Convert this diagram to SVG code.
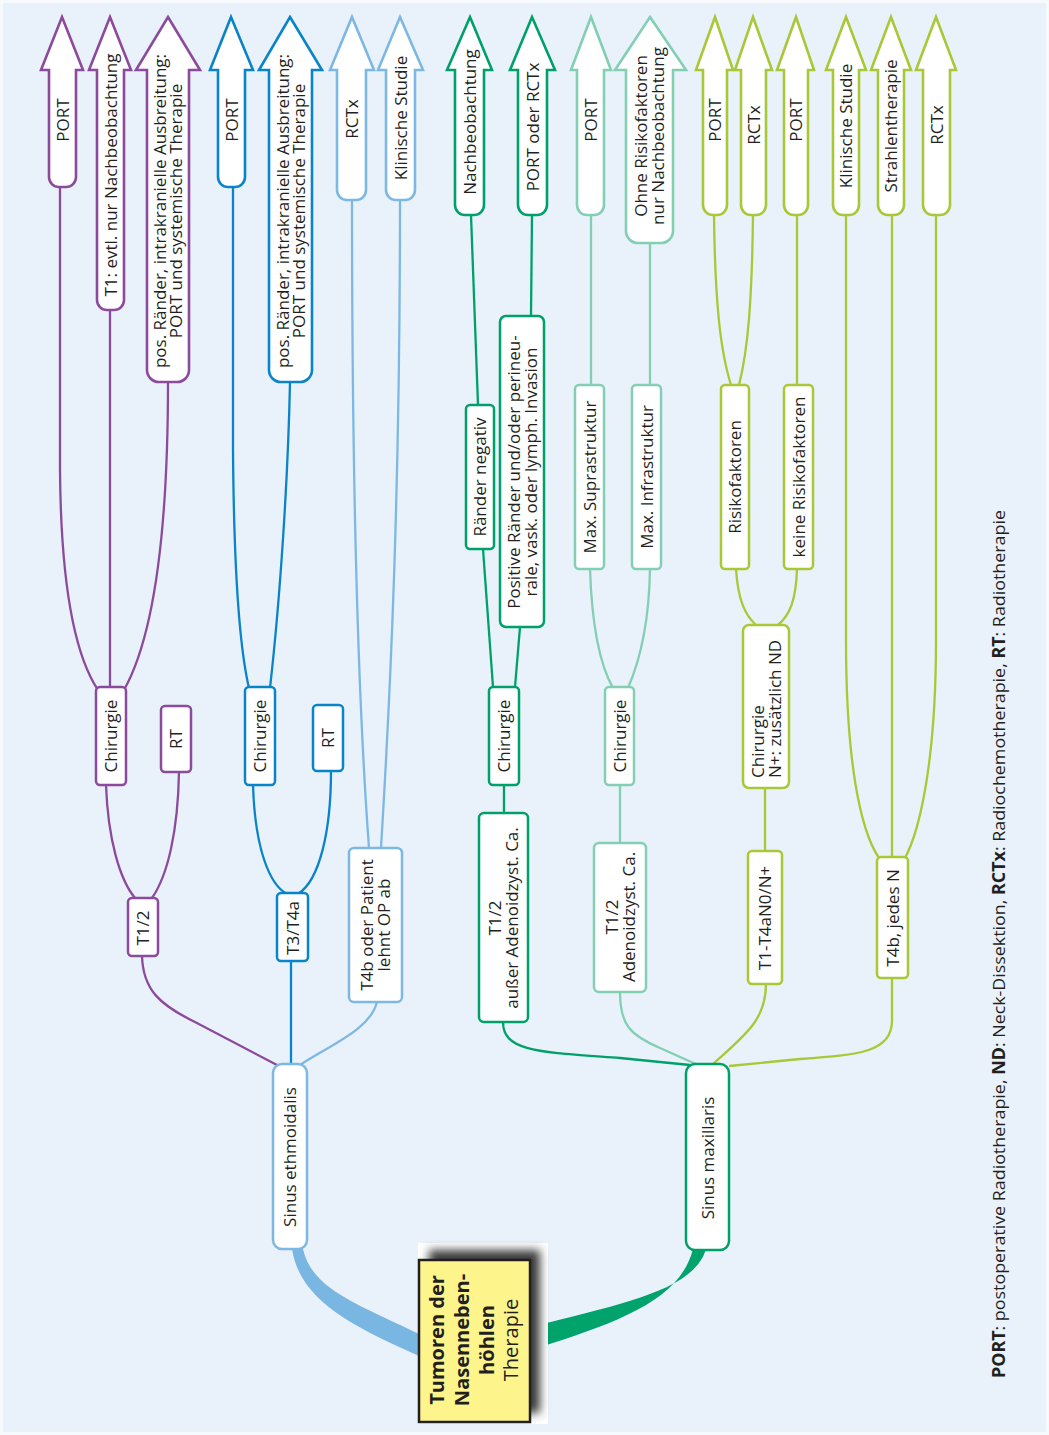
<svg xmlns="http://www.w3.org/2000/svg" width="1049" height="1435" viewBox="0 0 1049 1435">
  <defs>
    <style>
      text { font-family: "Open Sans", "Liberation Sans", sans-serif; font-size: 17px; fill: #231f20; }
      .box { fill: #ffffff; stroke-width: 2.5; }
      .arr { fill: #ffffff; stroke-width: 2.6; stroke-linejoin: miter; }
      .ln { fill: none; stroke-width: 2.3; }
      .p { stroke: #8c4a9d; }
      .b { stroke: #0a84c8; }
      .lb { stroke: #7db8e4; }
      .g { stroke: #00a06b; }
      .t { stroke: #82cfb3; }
      .l { stroke: #a9c837; }
      .c { text-anchor: middle; }
    </style>
    <filter id="shadow" x="-30%" y="-30%" width="160%" height="160%">
      <feGaussianBlur stdDeviation="5"/>
    </filter>
  </defs>

  <!-- page background -->
  <rect x="0" y="0" width="1049" height="1435" fill="#f7fafd"/>
  <rect x="3" y="3" width="1043" height="1429" fill="#e9f2fa"/>

  <!-- connectors -->
  <g id="connectors">
    <!-- Sinus ethmoidalis: T1/2 branch -->
    <path class="ln p" d="M60,187 L60,470 C61,600 78,660 98,690"/>
    <path class="ln p" d="M110,310 L110,687"/>
    <path class="ln p" d="M168,382 C168,540 152,640 124,690"/>
    <path class="ln p" d="M106,785 C108,840 120,880 135,898"/>
    <path class="ln p" d="M179,772 C178,830 168,875 152,898"/>
    <path class="ln p" d="M142,956 C143,990 160,1005 195,1022 L277,1065"/>
    <!-- Sinus ethmoidalis: T3/T4a branch -->
    <path class="ln b" d="M233,187 L233,450 C234,580 240,650 249,688"/>
    <path class="ln b" d="M290,382 C288,480 280,600 270,688"/>
    <path class="ln b" d="M253,785 C255,850 270,885 287,894"/>
    <path class="ln b" d="M331,771 C331,830 320,880 298,894"/>
    <path class="ln b" d="M291,961 L291,1064"/>
    <!-- Sinus ethmoidalis: T4b branch -->
    <path class="ln lb" d="M352,200 C352,500 358,700 369,848"/>
    <path class="ln lb" d="M400,200 C400,500 390,700 381,848"/>
    <path class="ln lb" d="M377,1002 C370,1030 330,1045 300,1065"/>
    <!-- Sinus maxillaris: T1/2 ausser Adenoidzyst. -->
    <path class="ln g" d="M471,215 L478,405"/>
    <path class="ln g" d="M483,549 L493,687"/>
    <path class="ln g" d="M532,215 L531,316"/>
    <path class="ln g" d="M520,627 L515,687"/>
    <path class="ln g" d="M504,785 L504,813"/>
    <path class="ln g" d="M503,1022 C503,1052 540,1052 620,1058 L690,1065"/>
    <!-- Sinus maxillaris: T1/2 Adenoidzyst. -->
    <path class="ln t" d="M591,215 L591,385"/>
    <path class="ln t" d="M650,243 L650,385"/>
    <path class="ln t" d="M590,569 C592,630 600,665 613,688"/>
    <path class="ln t" d="M650,569 C649,630 638,665 628,688"/>
    <path class="ln t" d="M620,785 L620,843"/>
    <path class="ln t" d="M620,992 C620,1025 630,1035 660,1048 L698,1065"/>
    <!-- Sinus maxillaris: T1-T4aN0/N+ -->
    <path class="ln l" d="M714,215 C715,300 720,350 731,385"/>
    <path class="ln l" d="M753,215 C752,300 748,350 739,385"/>
    <path class="ln l" d="M797,215 L797,385"/>
    <path class="ln l" d="M736,569 C738,600 745,615 756,625"/>
    <path class="ln l" d="M797,569 C796,600 790,615 778,625"/>
    <path class="ln l" d="M765,788 L765,851"/>
    <path class="ln l" d="M766,984 C766,1020 745,1035 713,1064"/>
    <!-- Sinus maxillaris: T4b, jedes N -->
    <path class="ln l" d="M846,215 L846,640 C846,760 860,830 879,858"/>
    <path class="ln l" d="M892,215 L892,857"/>
    <path class="ln l" d="M936,215 L936,640 C936,760 920,830 905,858"/>
    <path class="ln l" d="M892,978 L892,1020 C892,1052 860,1055 800,1059 L729,1066"/>
    <!-- tapered trunks from the root -->
    <path d="M303,1249 C312,1290 360,1305 419,1334 L419,1356 C350,1325 300,1300 292,1249 Z" fill="#7ab6e2"/>
    <path d="M706,1249 C694,1290 625,1303 531,1327 L531,1350 C620,1322 680,1300 693,1249 Z" fill="#00a36c"/>
  </g>

  <!-- root -->
  <g id="root">
    <rect x="418" y="1243" width="130" height="181" fill="#ffffff"/>
    <rect x="429" y="1250" width="111" height="163" fill="#3a3a3a" filter="url(#shadow)"/>
    <rect x="419" y="1260" width="111" height="162" fill="#fdf48c" stroke="#231f20" stroke-width="2.5"/>
    <text transform="translate(444,1340) rotate(-90)" class="c" style="font-size:20px;font-weight:bold">Tumoren der</text>
    <text transform="translate(469,1340) rotate(-90)" class="c" style="font-size:20px;font-weight:bold">Nasenneben-</text>
    <text transform="translate(494,1340) rotate(-90)" class="c" style="font-size:20px;font-weight:bold">höhlen</text>
    <text transform="translate(518,1340) rotate(-90)" class="c" style="font-size:20px">Therapie</text>
  </g>

  <!-- first level -->
  <g id="sinus-ethmoidalis">
    <rect class="box lb" x="273" y="1064" width="34" height="185" rx="9"/>
    <text class="c" transform="translate(296,1157) rotate(-90)">Sinus ethmoidalis</text>
  </g>
  <g id="sinus-maxillaris">
    <rect class="box g" x="686" y="1064" width="43" height="186" rx="9"/>
    <text class="c" transform="translate(713.5,1158) rotate(-90)">Sinus maxillaris</text>
  </g>

  <!-- Sinus ethmoidalis branches -->
  <g id="eth-t12">
    <rect class="box p" x="128" y="898" width="30" height="58" rx="4"/>
    <text class="c" transform="translate(149,928) rotate(-90)">T1/2</text>
  </g>
  <g id="eth-t12-chirurgie">
    <rect class="box p" x="96" y="687" width="30" height="98" rx="4"/>
    <text class="c" transform="translate(117,736) rotate(-90)">Chirurgie</text>
  </g>
  <g id="eth-t12-rt">
    <rect class="box p" x="161" y="706" width="30" height="66" rx="4"/>
    <text class="c" transform="translate(182,739) rotate(-90)">RT</text>
  </g>
  <g id="eth-t34">
    <rect class="box b" x="277" y="893" width="31" height="68" rx="4"/>
    <text class="c" transform="translate(298.5,928) rotate(-90)">T3/T4a</text>
  </g>
  <g id="eth-t34-chirurgie">
    <rect class="box b" x="245" y="687" width="30" height="98" rx="4"/>
    <text class="c" transform="translate(266,736) rotate(-90)">Chirurgie</text>
  </g>
  <g id="eth-t34-rt">
    <rect class="box b" x="313" y="705" width="30" height="66" rx="4"/>
    <text class="c" transform="translate(334,738) rotate(-90)">RT</text>
  </g>
  <g id="eth-t4b">
    <rect class="box lb" x="349" y="848" width="53" height="154" rx="5"/>
    <text class="c" transform="translate(373,925) rotate(-90)">T4b oder Patient</text>
    <text class="c" transform="translate(390,925) rotate(-90)">lehnt OP ab</text>
  </g>

  <!-- Sinus maxillaris branches -->
  <g id="max-t12">
    <rect class="box g" x="479" y="813" width="49" height="209" rx="5"/>
    <text class="c" transform="translate(501,918) rotate(-90)">T1/2</text>
    <text class="c" transform="translate(518,918) rotate(-90)">außer Adenoidzyst. Ca.</text>
  </g>
  <g id="max-t12-chirurgie">
    <rect class="box g" x="489" y="687" width="30" height="98" rx="4"/>
    <text class="c" transform="translate(510,736) rotate(-90)">Chirurgie</text>
  </g>
  <g id="max-t12-neg">
    <rect class="box g" x="466" y="405" width="28" height="144" rx="4"/>
    <text class="c" transform="translate(486,477) rotate(-90)">Ränder negativ</text>
  </g>
  <g id="max-t12-pos">
    <rect class="box g" x="500" y="316" width="44" height="311" rx="6"/>
    <text class="c" transform="translate(520,472) rotate(-90)">Positive Ränder und/oder perineu-</text>
    <text class="c" transform="translate(537,472) rotate(-90)">rale, vask. oder lymph. Invasion</text>
  </g>
  <g id="max-adeno">
    <rect class="box t" x="594" y="843" width="52" height="149" rx="5"/>
    <text class="c" transform="translate(617.5,917) rotate(-90)">T1/2</text>
    <text class="c" transform="translate(634.5,917) rotate(-90)">Adenoidzyst. Ca.</text>
  </g>
  <g id="max-adeno-chirurgie">
    <rect class="box t" x="605" y="687" width="29" height="98" rx="4"/>
    <text class="c" transform="translate(625.5,736) rotate(-90)">Chirurgie</text>
  </g>
  <g id="max-adeno-supra">
    <rect class="box t" x="575" y="385" width="29" height="184" rx="4"/>
    <text class="c" transform="translate(595.5,477) rotate(-90)">Max. Suprastruktur</text>
  </g>
  <g id="max-adeno-infra">
    <rect class="box t" x="632" y="385" width="29" height="184" rx="4"/>
    <text class="c" transform="translate(652.5,477) rotate(-90)">Max. Infrastruktur</text>
  </g>
  <g id="max-t14">
    <rect class="box l" x="748" y="851" width="34" height="133" rx="4"/>
    <text class="c" transform="translate(771,918) rotate(-90)">T1-T4aN0/N+</text>
  </g>
  <g id="max-t14-chirurgie">
    <rect class="box l" x="743" y="625" width="46" height="163" rx="6"/>
    <text transform="translate(763.5,778) rotate(-90)">Chirurgie</text>
    <text transform="translate(780.5,778) rotate(-90)">N+: zusätzlich ND</text>
  </g>
  <g id="max-t14-risk">
    <rect class="box l" x="721" y="385" width="28" height="184" rx="4"/>
    <text class="c" transform="translate(741,477) rotate(-90)">Risikofaktoren</text>
  </g>
  <g id="max-t14-norisk">
    <rect class="box l" x="784" y="385" width="29" height="184" rx="4"/>
    <text class="c" transform="translate(804.5,477) rotate(-90)">keine Risikofaktoren</text>
  </g>
  <g id="max-t4b">
    <rect class="box l" x="877" y="857" width="31" height="121" rx="4"/>
    <text class="c" transform="translate(898.5,918) rotate(-90)">T4b, jedes N</text>
  </g>

  <!-- outcome arrows -->
  <g id="out-eth-port">
    <path class="arr p" d="M62,17 L83,70 L76,70 L76,177 A10,10 0 0 1 66,187 L59,187 A10,10 0 0 1 49,177 L49,70 L41,70 Z"/>
    <text class="c" transform="translate(68.5,120) rotate(-90)">PORT</text>
  </g>
  <g id="out-eth-t1">
    <path class="arr p" d="M110,17 L131,70 L124,70 L124,300 A10,10 0 0 1 114,310 L107,310 A10,10 0 0 1 97,300 L97,70 L89,70 Z"/>
    <text class="c" transform="translate(116.5,175) rotate(-90)">T1: evtl. nur Nachbeobachtung</text>
  </g>
  <g id="out-eth-pos1">
    <path class="arr p" d="M168,17 L200,70 L189,70 L189,370 A12,12 0 0 1 177,382 L159,382 A12,12 0 0 1 147,370 L147,70 L136,70 Z"/>
    <text class="c" transform="translate(166,211) rotate(-90)">pos. Ränder, intrakranielle Ausbreitung:</text>
    <text class="c" transform="translate(182,211) rotate(-90)">PORT und systemische Therapie</text>
  </g>
  <g id="out-eth-port2">
    <path class="arr b" d="M231,17 L253,70 L245,70 L245,177 A10,10 0 0 1 235,187 L228,187 A10,10 0 0 1 218,177 L218,70 L210,70 Z"/>
    <text class="c" transform="translate(237.5,120) rotate(-90)">PORT</text>
  </g>
  <g id="out-eth-pos2">
    <path class="arr b" d="M290,17 L322,70 L312,70 L312,370 A12,12 0 0 1 300,382 L281,382 A12,12 0 0 1 269,370 L269,70 L259,70 Z"/>
    <text class="c" transform="translate(288.5,211) rotate(-90)">pos. Ränder, intrakranielle Ausbreitung:</text>
    <text class="c" transform="translate(304.5,211) rotate(-90)">PORT und systemische Therapie</text>
  </g>
  <g id="out-eth-rctx">
    <path class="arr lb" d="M352,17 L374,70 L366,70 L366,190 A10,10 0 0 1 356,200 L347,200 A10,10 0 0 1 337,190 L337,70 L330,70 Z"/>
    <text class="c" transform="translate(357.5,119) rotate(-90)">RCTx</text>
  </g>
  <g id="out-eth-study">
    <path class="arr lb" d="M400,17 L423,70 L415,70 L415,190 A10,10 0 0 1 405,200 L396,200 A10,10 0 0 1 386,190 L386,70 L378,70 Z"/>
    <text class="c" transform="translate(406.5,118) rotate(-90)">Klinische Studie</text>
  </g>
  <g id="out-max-follow">
    <path class="arr g" d="M470,17 L492,70 L484,70 L484,205 A10,10 0 0 1 474,215 L465,215 A10,10 0 0 1 455,205 L455,70 L447,70 Z"/>
    <text class="c" transform="translate(475.5,122) rotate(-90)">Nachbeobachtung</text>
  </g>
  <g id="out-max-port-rctx">
    <path class="arr g" d="M532,17 L555,70 L547,70 L547,205 A10,10 0 0 1 537,215 L528,215 A10,10 0 0 1 518,205 L518,70 L510,70 Z"/>
    <text class="c" transform="translate(538.5,127) rotate(-90)">PORT oder RCTx</text>
  </g>
  <g id="out-max-port1">
    <path class="arr t" d="M591,17 L611,70 L604,70 L604,205 A10,10 0 0 1 594,215 L587,215 A10,10 0 0 1 577,205 L577,70 L571,70 Z"/>
    <text class="c" transform="translate(596.5,120) rotate(-90)">PORT</text>
  </g>
  <g id="out-max-norisk">
    <path class="arr t" d="M650,17 L686,70 L673,70 L673,231 A12,12 0 0 1 661,243 L638,243 A12,12 0 0 1 626,231 L626,70 L615,70 Z"/>
    <text class="c" transform="translate(647,136) rotate(-90)">Ohne Risikofaktoren</text>
    <text class="c" transform="translate(664,136) rotate(-90)">nur Nachbeobachtung</text>
  </g>
  <g id="out-max-port2">
    <path class="arr l" d="M715,17 L733,70 L727,70 L727,205 A10,10 0 0 1 717,215 L713,215 A10,10 0 0 1 703,205 L703,70 L696,70 Z"/>
    <text class="c" transform="translate(721,120) rotate(-90)">PORT</text>
  </g>
  <g id="out-max-rctx1">
    <path class="arr l" d="M753,17 L772,70 L766,70 L766,205 A10,10 0 0 1 756,215 L751,215 A10,10 0 0 1 741,205 L741,70 L735,70 Z"/>
    <text class="c" transform="translate(759.5,125) rotate(-90)">RCTx</text>
  </g>
  <g id="out-max-port3">
    <path class="arr l" d="M796,17 L814,70 L808,70 L808,205 A10,10 0 0 1 798,215 L794,215 A10,10 0 0 1 784,205 L784,70 L777,70 Z"/>
    <text class="c" transform="translate(802,120) rotate(-90)">PORT</text>
  </g>
  <g id="out-max-study">
    <path class="arr l" d="M846,17 L866,70 L859,70 L859,205 A10,10 0 0 1 849,215 L843,215 A10,10 0 0 1 833,205 L833,70 L826,70 Z"/>
    <text class="c" transform="translate(852,126) rotate(-90)">Klinische Studie</text>
  </g>
  <g id="out-max-rt">
    <path class="arr l" d="M891,17 L911,70 L904,70 L904,205 A10,10 0 0 1 894,215 L888,215 A10,10 0 0 1 878,205 L878,70 L871,70 Z"/>
    <text class="c" transform="translate(897,126) rotate(-90)">Strahlentherapie</text>
  </g>
  <g id="out-max-rctx2">
    <path class="arr l" d="M936,17 L956,70 L950,70 L950,205 A10,10 0 0 1 940,215 L933,215 A10,10 0 0 1 923,205 L923,70 L916,70 Z"/>
    <text class="c" transform="translate(942.5,125) rotate(-90)">RCTx</text>
  </g>

  <!-- abbreviations -->
  <text transform="translate(1005,1378) rotate(-90)" textLength="868" lengthAdjust="spacingAndGlyphs"><tspan font-weight="bold">PORT</tspan>: postoperative Radiotherapie, <tspan font-weight="bold">ND</tspan>: Neck-Dissektion, <tspan font-weight="bold">RCTx</tspan>: Radiochemotherapie, <tspan font-weight="bold">RT</tspan>: Radiotherapie</text>
</svg>
